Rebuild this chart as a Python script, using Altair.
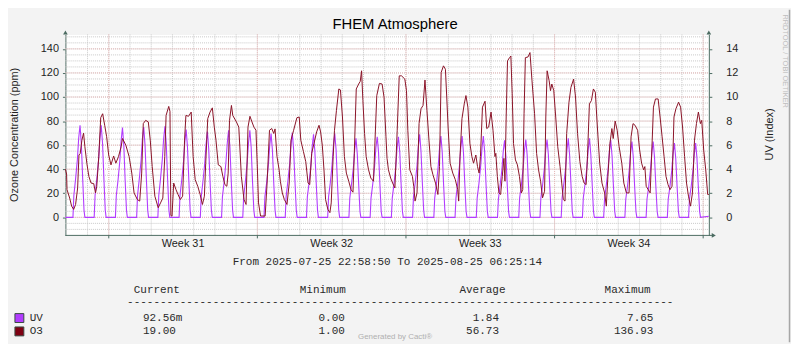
import altair as alt
import pandas as pd

# ---------------- texts ----------------
TITLE = "FHEM Atmosphere"
LEFT_TITLE = "Ozone Concentration (ppm)"
RIGHT_TITLE = "UV (Index)"
RANGE_TEXT = "From 2025-07-25 22:58:50 To 2025-08-25 06:25:14"
FOOTER = "Generated by Cacti\u00ae"
SIDE_TEXT = "RRDTOOL / TOBI OETIKER"

# ---------------- time axis (hours after 2025-07-26 00:00) ----------------
X_START = -1.02     # 2025-07-25 22:58:50
X_END = 726.42      # 2025-08-25 06:25:14
WEEK_LABELS = ["Week 31", "Week 32", "Week 33", "Week 34"]
WEEK_LABEL_HOURS = [132, 300, 468, 636]
WEEK_START_HOURS = [48, 216, 384, 552, 720]
DAY_HOURS = [24 * d for d in range(31)]

LEFT_MAJOR = [0, 20, 40, 60, 80, 100, 120, 140]
LEFT_MINOR = list(range(-10, 155, 5))
RIGHT_TICKS = [0, 2, 4, 6, 8, 10, 12, 14]

# ---------------- O3 series (hour, ppm) ----------------
O3_POINTS = [
    (-1.02, 40.0), (0.3, 36.0), (0.8, 23.0), (3.8, 16.0), (6.0, 9.3), (8.3, 6.6), (10.5, 10.7),
    (12.8, 24.4), (14.3, 51.8), (15.7, 53.0), (17.6, 64.0), (19.5, 70.0), (21.0, 58.7), (23.2, 45.0),
    (25.5, 34.0), (28.0, 28.5), (31.0, 28.0), (33.0, 20.3), (34.4, 25.8), (36.7, 50.5), (38.9, 82.8),
    (41.1, 86.1), (43.4, 76.5), (45.6, 67.0), (47.9, 51.8), (50.5, 43.6), (53.5, 51.0), (56.0, 45.0),
    (59.0, 50.5), (62.0, 58.7), (63.5, 65.5), (67.3, 60.0), (71.0, 50.5), (74.0, 36.8), (76.6, 20.3),
    (80.3, 14.8), (83.0, 13.5), (85.2, 36.8), (87.0, 77.9), (89.7, 80.6), (92.7, 79.3), (94.9, 64.2),
    (97.1, 42.2), (100.1, 17.6), (103.9, 8.0), (106.5, 12.0), (109.1, 16.0), (111.3, 50.5), (112.8, 84.7),
    (115.8, 92.2), (117.2, 88.0), (118.2, 1.5), (119.5, 1.0), (121.4, 28.5), (124.0, 23.0), (126.3, 19.0),
    (128.9, 14.8), (131.5, 17.6), (133.7, 64.2), (135.2, 84.7), (138.2, 84.0), (141.2, 87.5), (141.9, 75.0),
    (143.4, 50.5), (145.7, 31.3), (148.6, 25.8), (151.3, 19.0), (153.9, 10.7), (156.1, 17.6), (157.6, 45.0),
    (159.9, 82.0), (162.5, 87.5), (165.1, 91.0), (167.3, 75.0), (169.2, 64.2), (171.8, 43.6), (174.8, 42.2),
    (177.0, 34.0), (179.3, 27.2), (181.5, 25.8), (183.0, 36.8), (184.5, 80.6), (186.7, 93.0), (188.2, 84.7),
    (192.3, 79.3), (195.0, 75.0), (197.9, 34.0), (200.9, 14.8), (203.2, 10.7), (205.4, 75.0), (207.6, 84.0),
    (209.9, 79.3), (212.1, 75.0), (214.4, 72.4), (215.8, 45.0), (217.3, 12.0), (219.6, 1.1), (224.8, 1.1),
    (227.0, 28.5), (229.7, 72.4), (232.3, 73.8), (234.5, 69.7), (236.0, 73.5), (238.2, 50.5), (240.5, 40.0),
    (242.0, 30.0), (244.2, 20.3), (246.5, 14.8), (249.5, 10.7), (252.0, 28.5), (254.0, 64.2), (257.0, 72.4),
    (260.7, 82.8), (263.3, 83.4), (265.1, 64.2), (268.1, 54.6), (270.7, 46.3), (273.3, 28.5), (275.2, 27.2),
    (277.4, 53.2), (280.0, 61.4), (283.0, 71.0), (285.7, 76.5), (287.5, 71.0), (289.4, 60.0), (291.3, 39.5),
    (293.1, 14.8), (295.7, 6.6), (298.0, 3.9), (299.5, 12.0), (301.7, 50.5), (303.2, 72.4), (305.4, 88.9),
    (308.1, 106.7), (309.9, 105.9), (312.2, 83.4), (314.4, 50.5), (316.6, 36.8), (319.3, 30.0), (321.9, 23.0),
    (324.1, 20.9), (325.6, 53.2), (327.8, 106.7), (330.5, 110.8), (332.3, 113.0), (333.8, 121.8), (335.3, 97.1),
    (337.2, 69.7), (339.0, 50.5), (341.7, 39.5), (344.3, 32.6), (347.3, 30.0), (348.8, 60.0), (351.0, 101.2),
    (354.0, 111.3), (357.0, 110.8), (359.2, 100.0), (361.4, 66.9), (362.6, 49.0), (364.2, 39.5), (366.7, 32.6),
    (368.9, 28.5), (371.5, 24.4), (374.1, 72.4), (376.4, 117.6), (379.0, 117.6), (382.7, 114.9), (384.6, 105.3),
    (386.1, 72.4), (388.3, 39.5), (391.3, 34.0), (392.8, 25.8), (394.3, 13.5), (396.5, 20.3), (398.8, 77.9),
    (401.0, 90.2), (403.3, 93.0), (405.5, 114.1), (407.7, 88.9), (410.0, 64.2), (412.2, 42.2), (414.5, 35.4),
    (417.4, 28.5), (420.1, 19.0), (421.9, 42.2), (423.8, 120.4), (426.4, 125.9), (428.6, 123.1), (430.1, 100.0),
    (431.6, 75.1), (433.9, 45.0), (436.9, 36.8), (439.8, 31.3), (442.5, 23.0), (443.6, 13.5), (445.1, 50.5),
    (447.3, 82.0), (449.9, 94.3), (451.8, 101.2), (454.0, 91.6), (456.3, 61.4), (458.5, 50.5), (460.4, 45.0),
    (463.0, 51.8), (464.9, 42.2), (466.7, 36.8), (468.2, 50.5), (470.5, 91.6), (473.4, 96.5), (475.3, 73.8),
    (477.5, 75.0), (480.2, 87.5), (482.4, 72.4), (484.6, 50.5), (485.6, 53.2), (487.3, 34.0), (489.1, 20.3),
    (491.0, 19.0), (492.9, 34.0), (494.7, 49.0), (495.9, 30.0), (497.3, 83.4), (498.8, 130.0), (501.1, 132.7),
    (502.6, 134.1), (504.1, 102.6), (505.6, 61.4), (507.8, 47.7), (510.0, 43.6), (512.3, 34.0), (514.5, 20.3),
    (516.0, 23.0), (517.5, 86.1), (519.0, 132.7), (522.0, 133.3), (524.2, 136.93), (526.5, 113.5), (529.4, 86.1),
    (531.7, 53.2), (533.9, 39.5), (536.2, 30.0), (538.4, 16.2), (540.7, 21.7), (542.1, 83.4), (543.6, 121.8),
    (545.9, 113.5), (547.4, 105.3), (548.9, 110.8), (551.1, 105.3), (553.3, 83.4), (555.6, 58.7), (558.2, 42.2),
    (560.1, 28.5), (561.9, 14.8), (563.8, 13.5), (565.7, 69.7), (568.3, 95.7), (570.5, 108.0), (573.5, 114.9),
    (575.7, 100.0), (578.0, 69.7), (580.6, 46.3), (583.2, 34.0), (585.4, 28.5), (587.7, 27.2), (589.2, 50.5),
    (591.4, 94.3), (593.7, 97.1), (595.9, 106.7), (598.1, 104.0), (600.4, 75.1), (603.0, 45.0), (605.6, 28.5),
    (608.6, 20.3), (610.5, 9.3), (612.3, 34.0), (614.6, 61.4), (616.8, 73.8), (618.3, 65.5), (620.5, 80.0),
    (622.8, 72.4), (625.0, 58.7), (628.0, 45.0), (630.3, 28.5), (633.2, 20.3), (636.2, 20.3), (638.5, 66.9),
    (640.7, 77.9), (643.0, 76.5), (645.9, 72.4), (648.2, 56.0), (650.4, 45.0), (652.7, 39.5), (654.1, 42.2),
    (655.6, 25.8), (657.9, 23.0), (660.1, 20.3), (662.4, 64.2), (663.8, 91.6), (666.1, 98.4), (669.1, 98.4),
    (671.3, 83.4), (673.6, 66.9), (675.8, 50.5), (678.0, 34.0), (680.3, 27.2), (682.5, 23.0), (684.8, 25.8),
    (687.0, 83.4), (689.2, 90.2), (692.2, 95.7), (694.5, 91.6), (696.7, 75.1), (699.0, 50.5), (701.2, 28.5),
    (703.4, 17.6), (705.7, 9.3), (707.9, 20.3), (710.2, 64.2), (712.4, 77.9), (714.6, 87.5), (716.9, 77.9),
    (718.4, 80.6), (720.6, 56.0), (722.9, 39.5), (725.1, 19.0), (726.42, 19.0),
]

# ---------------- UV series: hour of day, one row per day (Jul 26 .. Aug 24) ----------------
UV_DAY_HOURS = [7.5, 8.5, 10.5, 12.5, 14.0, 15.5, 17.0, 18.5, 20.0, 21.0]
UV_DAYS = [
    [0, 1.8, 3.2, 4.8, 6.6, 7.65, 6.1, 3.2, 0.6, 0],
    [0, 1.8, 3.2, 4.8, 6.6, 7.65, 6.1, 3.2, 0.6, 0],
    [0, 1.8, 3.1, 4.7, 6.4, 7.46, 6.0, 3.1, 0.6, 0],
    [0, 1.8, 3.2, 4.7, 6.5, 7.50, 6.0, 3.2, 0.6, 0],
    [0, 1.8, 3.2, 4.8, 6.5, 7.57, 6.1, 3.2, 0.6, 0],
    [0, 1.8, 3.1, 4.6, 6.3, 7.30, 5.8, 3.1, 0.6, 0],
    [0, 1.7, 3.0, 4.5, 6.1, 7.13, 5.7, 3.0, 0.6, 0],
    [0, 1.7, 3.0, 4.6, 6.2, 7.24, 5.8, 3.0, 0.6, 0],
    [0, 1.7, 3.0, 4.6, 6.2, 7.24, 5.8, 3.0, 0.6, 0],
    [0, 1.7, 2.9, 4.4, 6.0, 6.97, 5.6, 2.9, 0.6, 0],
    [0, 1.7, 3.0, 4.4, 6.0, 7.03, 5.6, 3.0, 0.6, 0],
    [0, 1.7, 2.9, 4.3, 5.9, 6.90, 5.5, 2.9, 0.6, 0],
    [0, 1.7, 2.9, 4.4, 6.0, 6.97, 5.6, 2.9, 0.6, 0],
    [0, 1.6, 2.8, 4.1, 5.6, 6.56, 5.2, 2.8, 0.5, 0],
    [0, 1.6, 2.8, 4.2, 5.8, 6.70, 5.4, 2.8, 0.5, 0],
    [0, 1.6, 2.8, 4.2, 5.8, 6.70, 5.4, 2.8, 0.5, 0],
    [0, 1.7, 2.9, 4.3, 5.9, 6.90, 5.5, 2.9, 0.6, 0],
    [0, 1.6, 2.8, 4.3, 5.8, 6.75, 5.4, 2.8, 0.5, 0],
    [0, 1.6, 2.8, 4.3, 5.8, 6.75, 5.4, 2.8, 0.5, 0],
    [0, 1.6, 2.8, 4.3, 5.8, 6.75, 5.4, 2.8, 0.5, 0],
    [0, 1.5, 2.7, 4.0, 5.5, 6.40, 5.1, 2.7, 0.5, 0],
    [0, 1.6, 2.7, 4.1, 5.6, 6.46, 5.2, 2.7, 0.5, 0],
    [0, 1.6, 2.7, 4.1, 5.6, 6.46, 5.2, 2.7, 0.5, 0],
    [0, 1.6, 2.8, 4.1, 5.6, 6.56, 5.2, 2.8, 0.5, 0],
    [0, 1.6, 2.8, 4.1, 5.6, 6.56, 5.2, 2.8, 0.5, 0],
    [0, 1.5, 2.7, 4.0, 5.5, 6.42, 5.1, 2.7, 0.5, 0],
    [0, 1.5, 2.6, 4.0, 5.4, 6.30, 5.0, 2.6, 0.5, 0],
    [0, 1.5, 2.6, 4.0, 5.4, 6.30, 5.0, 2.6, 0.5, 0],
    [0, 1.5, 2.6, 3.9, 5.3, 6.17, 4.9, 2.6, 0.5, 0],
    [0, 1.5, 2.6, 3.9, 5.3, 6.17, 4.9, 2.6, 0.5, 0],
]
UV_FIRST = (X_START, 0.0)
UV_LAST = (X_END, 0.0926)

# ---------------- legend table ----------------
LEGEND_HEADERS = ["Current", "Minimum", "Average", "Maximum"]
LEGEND_NAMES = ["UV", "O3"]
LEGEND_COLORS = ["#B23CFF", "#7E0012"]
CURRENT = ["92.56m", "19.00"]
MINIMUM = ["0.00", "1.00"]
AVERAGE = ["1.84", "56.73"]
MAXIMUM = ["7.65", "136.93"]

# ---------------- style ----------------
W, H = 650, 203
BG = "#F3F3F3"
CANVAS = "#FFFFFF"
AXIS = "#4B6B61"
MINOR = "#C8C8C8"
MAJOR = "#EBB8B8"
O3_COLOR = "#8A1226"
UV_COLOR = "#B23CFF"
TXT = "#1E1E1E"
MONO_COLOR = "#2A2A2A"
SANS = "Liberation Sans"
MONO = "Liberation Mono"

o3_df = pd.DataFrame(O3_POINTS, columns=["h", "ppm"])
uv_rows = [UV_FIRST]
for d, vals in enumerate(UV_DAYS):
    for hh, v in zip(UV_DAY_HOURS, vals):
        uv_rows.append((24 * d + hh, v))
uv_rows.append(UV_LAST)
uv_df = pd.DataFrame(uv_rows, columns=["h", "uv"])

xs = alt.Scale(domain=[X_START, X_END], nice=False, zero=False)
yl = alt.Scale(domain=[-15, 152], nice=False, zero=False)
yr = alt.Scale(domain=[-1.5, 15.2], nice=False, zero=False)

left_axis = alt.Axis(orient="left", values=LEFT_MAJOR, title=None, grid=False, format="d",
                     domainColor=AXIS, tickColor=AXIS, tickSize=3, labelPadding=4,
                     labelFont=SANS, labelFontSize=11, labelColor=TXT)
right_axis = alt.Axis(orient="right", values=RIGHT_TICKS, title=None, grid=False, format="d",
                      domainColor=AXIS, tickColor=AXIS, tickSize=3, labelPadding=14,
                      labelFont=SANS, labelFontSize=11, labelColor=TXT)
X = alt.X("h:Q", scale=xs, axis=None)


def text(txt, x, y, size=11, font=SANS, align="left", angle=0, color=TXT, baseline="alphabetic"):
    return alt.Chart(pd.DataFrame({"t": [txt]})).mark_text(
        font=font, fontSize=size, align=align, baseline=baseline, angle=angle, color=color
    ).encode(x=alt.value(x), y=alt.value(y), text="t:N")


def one():
    return alt.Chart(pd.DataFrame({"k": [0]}))


# grid
minor_h = alt.Chart(pd.DataFrame({"v": LEFT_MINOR})).mark_rule(
    color=MINOR, strokeDash=[1, 1], strokeWidth=1
).encode(y=alt.Y("v:Q", scale=yl, axis=left_axis), x=alt.value(0), x2=alt.value(W))
minor_v = alt.Chart(pd.DataFrame({"h": DAY_HOURS})).mark_rule(
    color=MINOR, strokeDash=[1, 1], strokeWidth=1
).encode(x=X, y=alt.value(0), y2=alt.value(H))
major_h = alt.Chart(pd.DataFrame({"v": LEFT_MAJOR})).mark_rule(
    color=MAJOR, strokeDash=[1, 1], strokeWidth=1
).encode(y=alt.Y("v:Q", scale=yl, axis=left_axis), x=alt.value(0), x2=alt.value(W))
major_v = alt.Chart(pd.DataFrame({"h": WEEK_START_HOURS})).mark_rule(
    color=MAJOR, strokeDash=[1, 1], strokeWidth=1
).encode(x=X, y=alt.value(0), y2=alt.value(H))
week_ticks = alt.Chart(pd.DataFrame({"h": WEEK_START_HOURS})).mark_rule(
    color=AXIS, strokeWidth=1
).encode(x=X, y=alt.value(H), y2=alt.value(H + 3))
week_text = alt.Chart(pd.DataFrame({"h": WEEK_LABEL_HOURS, "label": WEEK_LABELS})).mark_text(
    font=SANS, fontSize=11, color=TXT, align="center", baseline="alphabetic"
).encode(x=X, y=alt.value(215), text="label:N")

# axes decorations
bottom_axis = one().mark_rule(color=AXIS, strokeWidth=1).encode(
    x=alt.value(0), x2=alt.value(654), y=alt.value(H))
arrow_l = one().mark_point(shape="triangle-up", filled=True, size=22, color=AXIS, opacity=1).encode(
    x=alt.value(0), y=alt.value(-2))
arrow_r = one().mark_point(shape="triangle-up", filled=True, size=22, color=AXIS, opacity=1).encode(
    x=alt.value(W), y=alt.value(-2))
arrow_b = one().mark_point(shape="triangle-right", filled=True, size=22, color=AXIS, opacity=1).encode(
    x=alt.value(655), y=alt.value(H))
frame_r = one().mark_rule(color="#A6A6A6", strokeWidth=1.5).encode(
    x=alt.value(731.5), y=alt.value(-25), y2=alt.value(311))

deco = [
    text(TITLE, 333, -5, size=15, align="center", color="#000000"),
    text(LEFT_TITLE, -50.5, 101.5, size=11, align="center", angle=270, baseline="middle"),
    text(RIGHT_TITLE, 711.5, 101, size=11, align="center", angle=270, baseline="middle"),
    text(RANGE_TEXT, 169, 233, size=11.1, font=MONO, color=MONO_COLOR),
    text(SIDE_TEXT, 726.5, 27, size=7.5, align="center", angle=90, baseline="middle", color="#BDBDBD"),
    text(FOOTER, 333, 308, size=8, align="center", color="#B0B0B0"),
    text("-" * 83, 62.3, 273.5, size=11.1, font=MONO, color=MONO_COLOR),
]
for label, xpos in zip(LEGEND_HEADERS, [69, 236.7, 398, 544.7]):
    deco.append(text(label, xpos, 261.3, size=11.1, font=MONO, color=MONO_COLOR))
for i, ypos in enumerate([289.7, 303.0]):
    deco.append(text(LEGEND_NAMES[i], -36, ypos, size=11.1, font=MONO, color=MONO_COLOR))
    deco.append(text(CURRENT[i], 78.3, ypos, size=11.1, font=MONO, color=MONO_COLOR))
    deco.append(text(MINIMUM[i], 282.3, ypos, size=11.1, font=MONO, align="right", color=MONO_COLOR))
    deco.append(text(AVERAGE[i], 438, ypos, size=11.1, font=MONO, align="right", color=MONO_COLOR))
    deco.append(text(MAXIMUM[i], 594, ypos, size=11.1, font=MONO, align="right", color=MONO_COLOR))
    top = 282 if i == 0 else 295.5
    deco.append(one().mark_rect(fill=LEGEND_COLORS[i], stroke="#3A4A44", strokeWidth=1).encode(
        x=alt.value(-51), x2=alt.value(-42), y=alt.value(top), y2=alt.value(top + 9)))

group_left = alt.layer(minor_h, minor_v, major_h, major_v, week_ticks, week_text,
                       bottom_axis, arrow_l, arrow_r, arrow_b, frame_r, *deco)

group_uv = alt.layer(
    alt.Chart(uv_df).mark_line(color=UV_COLOR, strokeWidth=1.1).encode(
        x=X, y=alt.Y("uv:Q", scale=yr, axis=right_axis))
)

group_o3 = alt.layer(
    alt.Chart(o3_df).mark_line(color=O3_COLOR, strokeWidth=1.0).encode(
        x=X, y=alt.Y("ppm:Q", scale=yl, axis=None))
)

chart = alt.layer(group_left, group_uv, group_o3).resolve_scale(y="independent").properties(
    width=W, height=H,
    padding={"left": 58, "top": 25, "right": 83, "bottom": 108},
    autosize=alt.AutoSizeParams(type="none"),
    background=BG,
).configure_view(fill=CANVAS, stroke="transparent")

chart.save("out.html", embed_options={"renderer": "svg", "actions": False})
